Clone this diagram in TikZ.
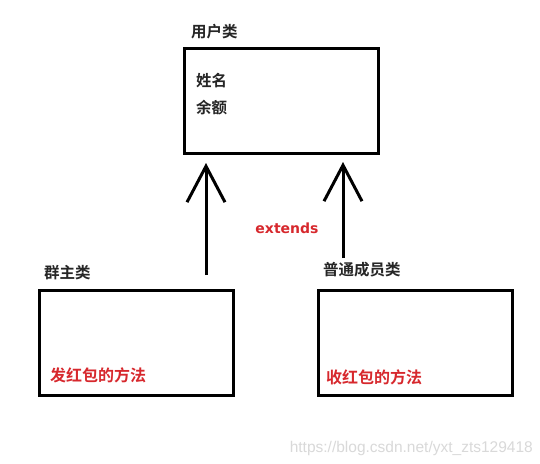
\documentclass[tikz,border=0pt]{standalone}
\usepackage{fontspec}
\newfontfamily\cjk{Noto Sans CJK SC}[BoldFont={Noto Sans CJK SC Bold}]
\usetikzlibrary{arrows.meta}
\definecolor{redtxt}{RGB}{215,40,45}
\tikzset{
  classbox/.style={draw=black, line width=3pt, minimum width=194pt, minimum height=105pt, inner sep=0pt},
  lbl/.style={font=\cjk\bfseries\fontsize{15.5}{17}\selectfont, text=black!85, inner sep=0pt, anchor=west},
  redlbl/.style={font=\cjk\bfseries\fontsize{16}{18}\selectfont, text=redtxt, inner sep=0pt, anchor=west},
  inh/.style={line width=3pt, -{Straight Barb[length=36pt, width=38pt, line width=3pt]}},
}
\begin{document}
\begin{tikzpicture}[x=1pt, y=-1pt]
\useasboundingbox[fill=white] (0,0) rectangle (540,463);
% boxes
\node[classbox] (user) at (281.5,100.5) {};
\node[classbox] (owner) at (136,342.5) {};
\node[classbox] (member) at (415,343) {};
% titles
\node[lbl] (userT) at (191,32) {用户类};
\node[lbl] (ownerT) at (44,273) {群主类};
\node[lbl] (memberT) at (323,270) {普通成员类};
% fields
\node[lbl] (f1) at (196,81) {姓名};
\node[lbl] (f2) at (196,108) {余额};
\node[redlbl] (m1) at (50,375) {发红包的方法};
\node[redlbl] (m2) at (326,377) {收红包的方法};
\node[font=\fontspec{DejaVu Sans}\bfseries\fontsize{14}{16}\selectfont, text=redtxt, inner sep=0pt] (ext) at (287,228) {extends};
% arrows
\coordinate (a1s) at (206,275);
\coordinate (a1e) at (206,163);
\coordinate (a2s) at (343,258);
\coordinate (a2e) at (343,162);
\draw[inh] (a1s) -- (a1e);
\draw[inh] (a2s) -- (a2e);
% watermark
\node[font=\fontspec{Liberation Sans}\fontsize{15.5}{17}\selectfont, text=black!15, inner sep=0pt, anchor=east] (wm) at (533,448) {https://blog.csdn.net/yxt\_zts129418};
\end{tikzpicture}
\end{document}
